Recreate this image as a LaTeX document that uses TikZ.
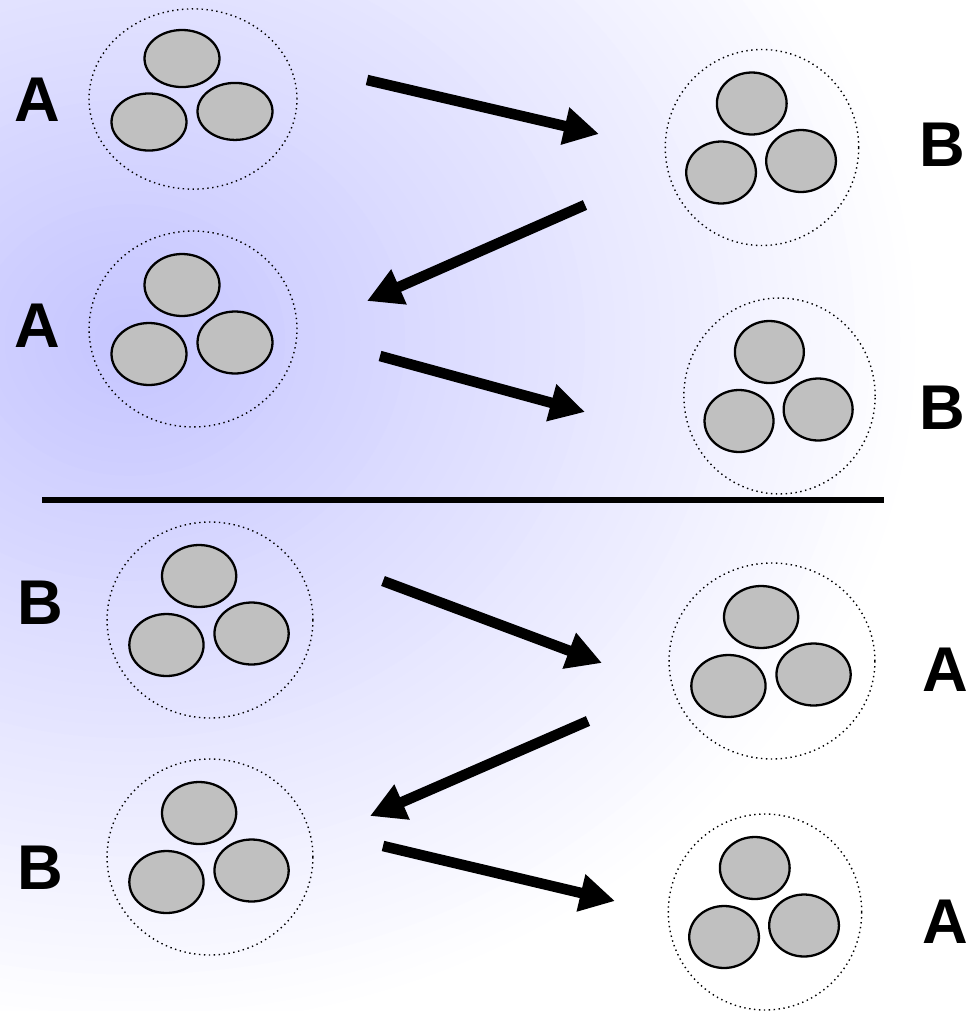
\documentclass[tikz,border=0pt]{standalone}
\usepackage{fontspec}
\setmainfont{Liberation Sans}
\usepackage{tikz}
\usetikzlibrary{shapes,arrows.meta,positioning,calc}
\definecolor{lilac}{RGB}{196,196,255}
\definecolor{ballgray}{HTML}{C0C0C0}

\tikzset{
  outer/.style={draw, ellipse, dotted, line width=0.8pt, inner sep=0pt},
  ball/.style={draw, ellipse, fill=ballgray, line width=1.3pt, inner sep=0pt},
  letter/.style={font=\fontsize{36}{40}\selectfont\bfseries, inner sep=0pt},
  move/.style={line width=6pt, -{Triangle[length=0.7cm,width=0.72cm]}}
}

% #1 name, #2 x, #3 y, #4 x scale, #5 y scale
\newcommand{\cluster}[5]{%
  \node[outer, minimum width=#4*4.16cm, minimum height=#5*3.92cm] (#1) at (#2,#3) {};
  \node[ball, minimum width=#4*1.5cm, minimum height=#5*1.24cm] (#1t) at ($(#1)+(#4*-11,#5*-44)$) {};
  \node[ball, minimum width=#4*1.5cm, minimum height=#5*1.24cm] (#1l) at ($(#1)+(#4*-44,#5*25)$) {};
  \node[ball, minimum width=#4*1.5cm, minimum height=#5*1.24cm] (#1r) at ($(#1)+(#4*42,#5*13.5)$) {};
}

\begin{document}
\begin{tikzpicture}[x=0.02cm, y=-0.02cm]
\useasboundingbox (0,0) rectangle (973,1011);
\begin{scope}
  \clip (0,0) rectangle (973,1011);
  \fill[white] (0,0) rectangle (973,1011);
  \foreach \r [evaluate=\r as \p using 100-\r/8] in {800,785,...,5}
    \fill[lilac!\p!white] (130,340) ellipse [x radius=\r*0.02cm, y radius=\r*0.0175cm];
\end{scope}

\cluster{a1}{193}{99}{1}{0.92}
\cluster{a2}{193}{329}{1}{1}
\cluster{b1}{762}{147.5}{0.93}{1}
\cluster{b2}{779.5}{396}{0.92}{1}
\cluster{b3}{210}{620}{0.99}{1}
\cluster{b4}{210}{857}{0.99}{1}
\cluster{a3}{772}{661}{0.99}{1}
\cluster{a4}{765}{912}{0.93}{1}

\node[letter] (la1) at (37,100) {A};
\node[letter] (la2) at (37,326) {A};
\node[letter] (lb1) at (942,145) {B};
\node[letter] (lb2) at (942,408) {B};
\node[letter] (lb3) at (40,603) {B};
\node[letter] (lb4) at (40,868) {B};
\node[letter] (la3) at (945,670) {A};
\node[letter] (la4) at (945,922) {A};

\coordinate (s1) at (367,80);   \coordinate (e1) at (599,134);
\coordinate (s2) at (585,205);  \coordinate (e2) at (367,301);
\coordinate (s3) at (380,356);  \coordinate (e3) at (585,412);
\coordinate (s4) at (383,581);  \coordinate (e4) at (602,663);
\coordinate (s5) at (588,721);  \coordinate (e5) at (370,816);
\coordinate (s6) at (383,846);  \coordinate (e6) at (615,901);
\coordinate (ll) at (42,500);   \coordinate (lr) at (884,500);

\draw[move] (s1) -- (e1);
\draw[move] (s2) -- (e2);
\draw[move] (s3) -- (e3);
\draw[move] (s4) -- (e4);
\draw[move] (s5) -- (e5);
\draw[move] (s6) -- (e6);
\draw[line width=3.4pt] (ll) -- (lr);
\end{tikzpicture}
\end{document}
